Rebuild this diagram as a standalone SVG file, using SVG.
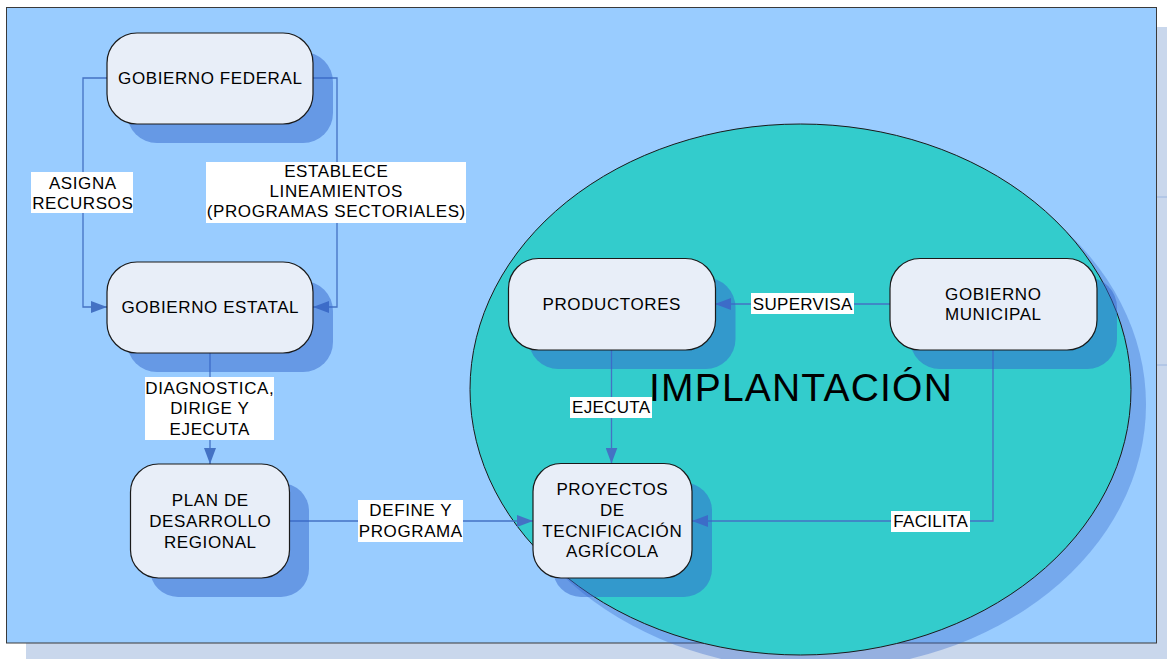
<svg xmlns="http://www.w3.org/2000/svg" width="1167" height="659" viewBox="0 0 1167 659">
<style>
.node{fill:#e8eef8;stroke:#1a1a1a;stroke-width:1.2}
.shadow{fill:#3366cc;fill-opacity:0.5}
.t{font-family:"Liberation Sans",Arial,sans-serif;font-size:17px;fill:#000;text-anchor:middle;letter-spacing:0.6px}
.tc{letter-spacing:0.3px}
.conn{fill:none;stroke:#4472c4;stroke-width:1.3}
.lbl{fill:#ffffff}
</style>
<defs>
<marker id="arr" markerUnits="userSpaceOnUse" viewBox="0 0 16 12" refX="16" refY="6" markerWidth="16" markerHeight="12" orient="auto">
<path d="M0,0 L16,6 L0,12 z" fill="#4472c4"/>
</marker>
</defs>
<rect width="1167" height="659" fill="#ffffff"/>
<g id="frame">
<rect x="26" y="27" width="1141" height="632" fill="#c9d7ec"/>
<line x1="1157" y1="197" x2="1167" y2="197" stroke="#9bb6e0" stroke-width="1"/>
<line x1="1157" y1="365" x2="1167" y2="365" stroke="#9bb6e0" stroke-width="1"/>
<rect x="6.5" y="7.5" width="1150" height="635.5" fill="#99ccff" stroke="#3a3a3a" stroke-width="1"/>
</g>
<g id="implantacion">
<ellipse cx="815.5" cy="404.5" rx="330.5" ry="265.5" fill="#3366cc" fill-opacity="0.35"/>
<ellipse cx="800.5" cy="389.5" rx="330.5" ry="265.5" fill="#33cccc" stroke="#1a1a1a" stroke-width="1"/>
<text x="801" y="401" style="font-family:'Liberation Sans',Arial,sans-serif;font-size:39px;fill:#000;text-anchor:middle;letter-spacing:1.2px">IMPLANTACIÓN</text>
</g>
<g id="connectors">
<path class="conn" d="M107,78 H83 V307 H107" marker-end="url(#arr)"/>
<path class="conn" d="M313,78 H337 V307 H313" marker-end="url(#arr)"/>
<path class="conn" d="M210,353 V464" marker-end="url(#arr)"/>
<path class="conn" d="M289,521 H533" marker-end="url(#arr)"/>
<path class="conn" d="M890,304 H715" marker-end="url(#arr)"/>
<path class="conn" d="M611.5,350 V463.5" marker-end="url(#arr)"/>
<path class="conn" d="M993,350 V521 H692" marker-end="url(#arr)"/>
<g id="lbl-asigna">
<rect class="lbl" x="31" y="172" width="102" height="41"/>
<text class="t" x="82.8" y="188.5">ASIGNA</text>
<text class="t" x="82.8" y="208.5">RECURSOS</text>
</g>
<g id="lbl-establece">
<rect class="lbl" x="206" y="162" width="260" height="61"/>
<text class="t" x="336.3" y="177">ESTABLECE</text>
<text class="t" x="336.3" y="197">LINEAMIENTOS</text>
<text class="t" x="336.3" y="217">(PROGRAMAS SECTORIALES)</text>
</g>
<g id="lbl-diagnostica">
<rect class="lbl" x="145" y="377" width="129" height="63"/>
<text class="t" x="209.8" y="393.5">DIAGNOSTICA,</text>
<text class="t" x="209.8" y="414">DIRIGE Y</text>
<text class="t" x="209.8" y="434.5">EJECUTA</text>
</g>
<g id="lbl-define">
<rect class="lbl" x="358" y="500" width="105" height="42"/>
<text class="t" x="410.8" y="516">DEFINE Y</text>
<text class="t" x="410.8" y="537">PROGRAMA</text>
</g>
<g id="lbl-supervisa">
<rect class="lbl" x="751" y="293" width="103" height="21"/>
<text class="t tc" x="802.7" y="310">SUPERVISA</text>
</g>
<g id="lbl-ejecuta">
<rect class="lbl" x="570" y="397" width="82" height="21"/>
<text class="t tc" x="611.2" y="412.5">EJECUTA</text>
</g>
<g id="lbl-facilita">
<rect class="lbl" x="891" y="511" width="79" height="21"/>
<text class="t tc" x="930.7" y="527">FACILITA</text>
</g>
</g>
<g id="gobierno-federal">
<rect class="shadow" x="127" y="52" width="206" height="91" rx="30"/>
<rect class="node" x="107" y="33" width="206" height="91" rx="30"/>
<text class="t" x="210.3" y="84">GOBIERNO FEDERAL</text>
</g>
<g id="gobierno-estatal">
<rect class="shadow" x="127" y="281" width="206" height="91" rx="30"/>
<rect class="node" x="107" y="262" width="206" height="91" rx="30"/>
<text class="t" x="210.3" y="312.5">GOBIERNO ESTATAL</text>
</g>
<g id="plan-desarrollo">
<rect class="shadow" x="150" y="483" width="159" height="114" rx="28"/>
<rect class="node" x="130.5" y="464" width="159" height="114" rx="28"/>
<text class="t" x="210.3" y="506">PLAN DE</text>
<text class="t" x="210.3" y="527">DESARROLLO</text>
<text class="t" x="210.3" y="547.5">REGIONAL</text>
</g>
<g id="productores">
<rect class="shadow" x="528.5" y="277.5" width="207" height="91.5" rx="30"/>
<rect class="node" x="508.5" y="258.5" width="207" height="91.5" rx="30"/>
<text class="t" x="611.8" y="310">PRODUCTORES</text>
</g>
<g id="gobierno-municipal">
<rect class="shadow" x="910" y="277.5" width="207" height="91.5" rx="30"/>
<rect class="node" x="890" y="258.5" width="207" height="91.5" rx="30"/>
<text class="t" x="993.3" y="299.5">GOBIERNO</text>
<text class="t" x="993.3" y="320">MUNICIPAL</text>
</g>
<g id="proyectos">
<rect class="shadow" x="553" y="482.5" width="159" height="114.5" rx="28"/>
<rect class="node" x="533" y="463.5" width="159" height="114.5" rx="28"/>
<text class="t" x="612.3" y="495">PROYECTOS</text>
<text class="t" x="612.3" y="516">DE</text>
<text class="t" x="612.3" y="537">TECNIFICACIÓN</text>
<text class="t" x="612.3" y="557">AGRÍCOLA</text>
</g>
</svg>
